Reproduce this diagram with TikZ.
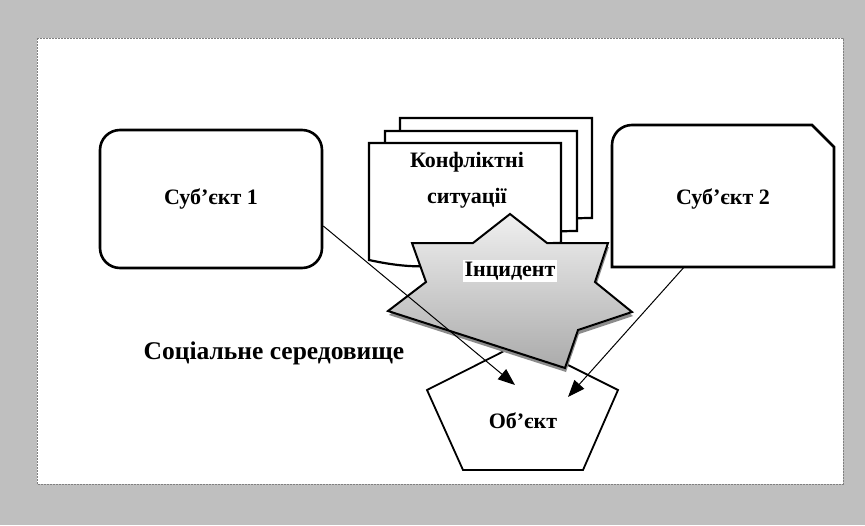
\documentclass[tikz,border=0pt]{standalone}
\usepackage{fontspec}
\setmainfont{Liberation Serif}
\usetikzlibrary{arrows.meta}
\begin{document}
\begin{tikzpicture}[x=1pt,y=-1pt,
    txt/.style={font=\bfseries\fontsize{22}{26}\selectfont},
    box/.style={draw,line width=2.6pt,fill=white},
    doc/.style={draw,line width=2.2pt,fill=white},
    arr/.style={-{Triangle[length=17pt,width=13pt]},line width=1pt}]
    % Fondo
    \fill[black!25] (0,0) rectangle (865,525);
    \draw[black!50,fill=white,line width=0.7pt,dash pattern=on 2pt off 1pt]
       (37,38) rectangle (843,484);
    % Sujeto 1
    \node[box,txt,rounded corners=20pt,minimum width=222pt,minimum height=138pt]
       (sub1) at (211,199) {Суб’єкт 1};
    % Sujeto 2
    \draw[box]
       (612,267)
    -- (612,145) arc[start angle=180,end angle=270,radius=20]
    -- (812,125)
    -- (834,147)
    -- (834,267)
    -- cycle;
    \node[txt,minimum width=222pt,minimum height=136pt] (sub2) at (723,199) {Суб’єкт 2};
    % Documentos
    \foreach \x/\t in {400/118,385/131,369/143}
       \draw[doc]
          (\x,\t)
       -- (\x+192,\t)
       -- (\x+192,\t+100)
       .. controls (\x+96,\t+100) and (\x+96,\t+138) .. (\x,\t+117)
       -- cycle;
    \node[txt,align=center] (conf) at (467,180) {Конфліктні\\[10pt]ситуації};
    % Objeto
    \draw[line width=1.8pt,fill=white]
       (522,342)
    -- (618,390)
    -- (583,470)
    -- (463,470)
    -- (427,390)
    -- cycle;
    \node[txt] (obj) at (523,421) {Об’єкт};
    \coordinate (obj-a) at (515,385);
    \coordinate (obj-b) at (568,397);
    % Incidente
    \fill[black!45,shift={(1,4)}]
       (510,214) -- (547,243) -- (608,243) -- (595,282) -- (632,312)
    -- (578,330) -- (565,368) -- (388,311) -- (426,282) -- (412,243)
    -- (473,243) -- cycle;
    \draw[line width=2pt,top color=black!6,bottom color=black!33]
       (510,214) -- (547,243) -- (608,243) -- (595,282) -- (632,312)
    -- (578,330) -- (565,368) -- (388,311) -- (426,282) -- (412,243)
    -- (473,243) -- cycle;
    \node[txt,fill=white,inner sep=2pt] (inc) at (510,271) {Інцидент};
    % Entorno
    \node[font=\bfseries\fontsize{25.5}{30}\selectfont] (env) at (274,353) {Соціальне середовище};
    % Flechas
    \draw[arr] ([yshift=-27pt]sub1.east) -- (obj-a);
    \draw[arr] ([xshift=-39pt]sub2.south) -- (obj-b);
\end{tikzpicture}
\end{document}
